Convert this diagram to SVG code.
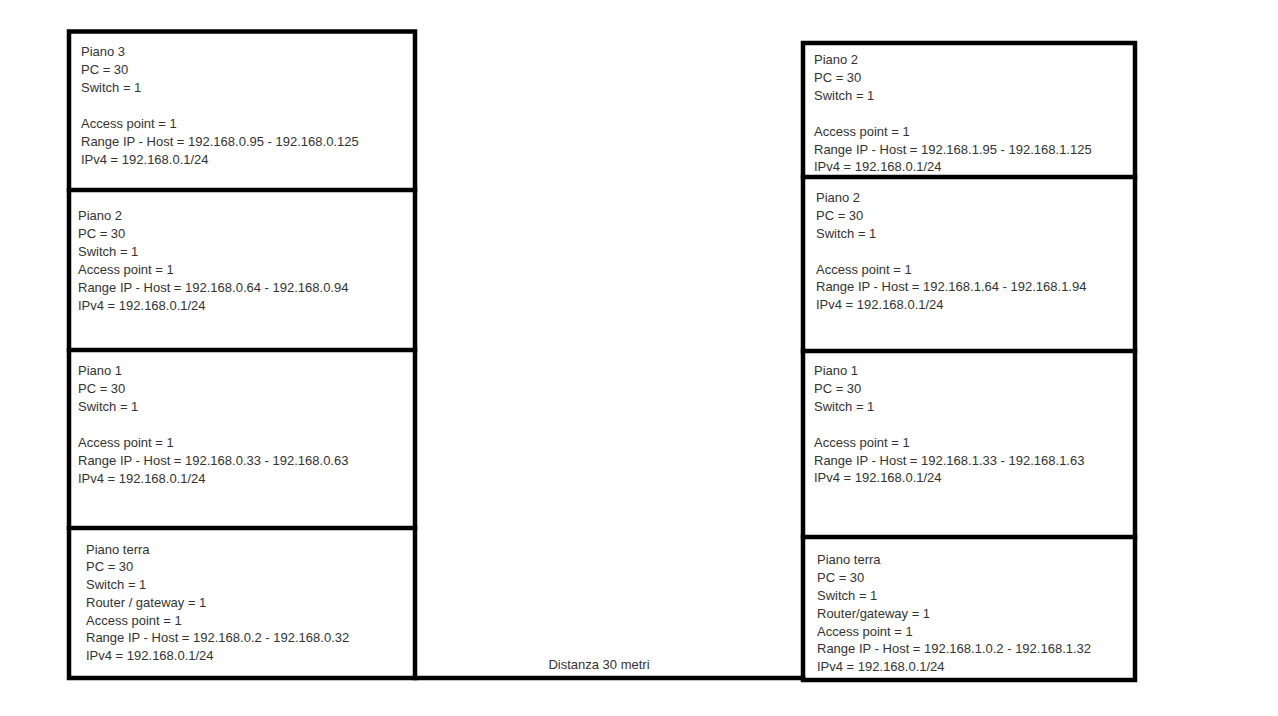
<svg xmlns="http://www.w3.org/2000/svg" width="1278" height="716" viewBox="0 0 1278 716">
<style>
.w{fill:none;stroke:#000;stroke-width:4.5;stroke-linecap:square}
text{font-family:"Liberation Sans",Arial,sans-serif;font-size:13px;fill:#333}
</style>
<rect width="1278" height="716" fill="#fff"/>
<g id="building-left">
<rect class="w" x="69" y="31.5" width="346" height="646.5"/>
<line class="w" x1="69" y1="190" x2="415" y2="190"/>
<line class="w" x1="69" y1="350" x2="415" y2="350"/>
<line class="w" x1="69" y1="528" x2="415" y2="528"/>
</g>
<g id="building-right">
<rect class="w" x="803" y="43" width="332" height="637"/>
<line class="w" x1="803" y1="177" x2="1135" y2="177"/>
<line class="w" x1="803" y1="351" x2="1135" y2="351"/>
<line class="w" x1="803" y1="537" x2="1135" y2="537"/>
</g>
<g id="connectors">
<line class="w" x1="415" y1="678" x2="803" y2="678"/>
<text x="599" y="668.5" text-anchor="middle">Distanza 30 metri</text>
</g>
<g id="left-piano3">
<text x="81" y="56">Piano 3</text>
<text x="81" y="74">PC = 30</text>
<text x="81" y="92">Switch = 1</text>
<text x="81" y="128">Access point = 1</text>
<text x="81" y="146">Range IP - Host = 192.168.0.95 - 192.168.0.125</text>
<text x="81" y="164">IPv4 = 192.168.0.1/24</text>
</g>
<g id="left-piano2">
<text x="78" y="220">Piano 2</text>
<text x="78" y="238">PC = 30</text>
<text x="78" y="256">Switch = 1</text>
<text x="78" y="274">Access point = 1</text>
<text x="78" y="292">Range IP - Host = 192.168.0.64 - 192.168.0.94</text>
<text x="78" y="310">IPv4 = 192.168.0.1/24</text>
</g>
<g id="left-piano1">
<text x="78" y="375">Piano 1</text>
<text x="78" y="393">PC = 30</text>
<text x="78" y="411">Switch = 1</text>
<text x="78" y="447">Access point = 1</text>
<text x="78" y="465">Range IP - Host = 192.168.0.33 - 192.168.0.63</text>
<text x="78" y="483">IPv4 = 192.168.0.1/24</text>
</g>
<g id="left-pianoterra">
<text x="86" y="554">Piano terra</text>
<text x="86" y="571">PC = 30</text>
<text x="86" y="589">Switch = 1</text>
<text x="86" y="607">Router / gateway = 1</text>
<text x="86" y="625">Access point = 1</text>
<text x="86" y="642">Range IP - Host = 192.168.0.2 - 192.168.0.32</text>
<text x="86" y="660">IPv4 = 192.168.0.1/24</text>
</g>
<g id="right-piano2-top">
<text x="814" y="64">Piano 2</text>
<text x="814" y="82">PC = 30</text>
<text x="814" y="100">Switch = 1</text>
<text x="814" y="136">Access point = 1</text>
<text x="814" y="154">Range IP - Host = 192.168.1.95 - 192.168.1.125</text>
<text x="814" y="171">IPv4 = 192.168.0.1/24</text>
</g>
<g id="right-piano2">
<text x="816" y="202">Piano 2</text>
<text x="816" y="220">PC = 30</text>
<text x="816" y="238">Switch = 1</text>
<text x="816" y="274">Access point = 1</text>
<text x="816" y="291">Range IP - Host = 192.168.1.64 - 192.168.1.94</text>
<text x="816" y="309">IPv4 = 192.168.0.1/24</text>
</g>
<g id="right-piano1">
<text x="814" y="375">Piano 1</text>
<text x="814" y="393">PC = 30</text>
<text x="814" y="411">Switch = 1</text>
<text x="814" y="447">Access point = 1</text>
<text x="814" y="465">Range IP - Host = 192.168.1.33 - 192.168.1.63</text>
<text x="814" y="482">IPv4 = 192.168.0.1/24</text>
</g>
<g id="right-pianoterra">
<text x="817" y="564">Piano terra</text>
<text x="817" y="582">PC = 30</text>
<text x="817" y="600">Switch = 1</text>
<text x="817" y="618">Router/gateway = 1</text>
<text x="817" y="636">Access point = 1</text>
<text x="817" y="653">Range IP - Host = 192.168.1.0.2 - 192.168.1.32</text>
<text x="817" y="671">IPv4 = 192.168.0.1/24</text>
</g>
</svg>
